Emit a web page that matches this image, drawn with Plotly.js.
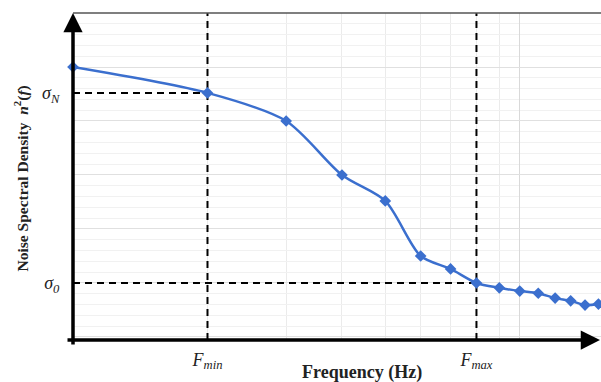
<!DOCTYPE html>
<html>
<head>
<meta charset="utf-8">
<script src="https://cdn.plot.ly/plotly-3.0.1.min.js"></script>
<style>html,body{margin:0;padding:0;background:#fff;}#chart{width:601px;height:382px;}</style>
</head>
<body>
<div id="chart"></div>
<script>
// Data (frequency index on log axis, noise spectral density in arbitrary units)
const freq = [1, 2, 3, 4, 5, 6, 7, 8, 9, 10, 11, 12, 13, 14, 15];
const density = [5.0, 4.52, 4.0, 3.0, 2.52, 1.5, 1.26, 1.0, 0.91, 0.85, 0.81, 0.72, 0.67, 0.59, 0.61];
const Fmin = 2;
const Fmax = 8;
const sigmaN = density[freq.indexOf(Fmin)];
const sigma0 = density[freq.indexOf(Fmax)];
const yTickVals = [sigmaN, sigma0];
const yTickText = ['<i>σ<sub>N</sub></i>', '<i>σ<sub>0</sub></i>'];
const xTickVals = [Fmin, Fmax];
const xTickText = ['<i>F<sub>min</sub></i>', '<i>F<sub>max</sub></i>'];
const xGridMinor = [2, 3, 4, 5, 6, 7, 8, 9];
const xGridMajor = [10];

const yRange = [-0.056, 6.0];
const xRange = [0, Math.log10(15.2)];
const serif = '"Liberation Serif", "DejaVu Serif", serif';

const dashStyle = {color: '#000', width: 2, dash: '7px,5px'};
const traces = [
  // guide lines on the grid axes (drawn below)
  {x: [Fmin, Fmin], y: yRange, xaxis: 'x', yaxis: 'y', mode: 'lines', line: dashStyle, hoverinfo: 'skip', showlegend: false},
  {x: [Fmax, Fmax], y: yRange, xaxis: 'x', yaxis: 'y', mode: 'lines', line: dashStyle, hoverinfo: 'skip', showlegend: false},
  {x: [freq[0], Fmin], y: [sigmaN, sigmaN], xaxis: 'x', yaxis: 'y', mode: 'lines', line: dashStyle, hoverinfo: 'skip', showlegend: false},
  {x: [freq[0], Fmax], y: [sigma0, sigma0], xaxis: 'x', yaxis: 'y', mode: 'lines', line: dashStyle, hoverinfo: 'skip', showlegend: false},
  // data series on the labelled axes (drawn on top)
  {x: freq, y: density, xaxis: 'x2', yaxis: 'y2', mode: 'lines+markers', cliponaxis: false, showlegend: false,
   line: {color: '#3b6fce', width: 2.5, shape: 'spline', smoothing: 0.8},
   marker: {symbol: 'diamond', size: 9, color: '#3b6fce'}}
];

const layout = {
  width: 601, height: 382,
  margin: {l: 73, r: 0, t: 13, b: 42},
  paper_bgcolor: '#fff', plot_bgcolor: '#fff',
  showlegend: false,
  xaxis: {
    type: 'log', range: xRange, tickvals: xGridMajor, showticklabels: false, ticks: '',
    showgrid: true, gridcolor: '#d9d9d9', gridwidth: 1, zeroline: false, showline: false,
    minor: {tickvals: xGridMinor, showgrid: true, gridcolor: '#ebebeb', gridwidth: 1, ticks: ''}
  },
  xaxis2: {
    type: 'log', range: xRange, overlaying: 'x', anchor: 'y2', side: 'bottom',
    tickvals: xTickVals, ticktext: xTickText, showgrid: false, zeroline: false, showline: false,
    ticks: 'outside', ticklen: 3, tickcolor: 'rgba(0,0,0,0)',
    tickfont: {family: serif, size: 18, color: '#222'}
  },
  yaxis: {
    range: yRange, dtick: 1, tick0: 0, showticklabels: false, ticks: '',
    showgrid: true, gridcolor: '#e0e0e0', gridwidth: 1, zeroline: false, showline: false,
    minor: {dtick: 0.2, tick0: 0, showgrid: true, gridcolor: '#f1f1f1', gridwidth: 1, ticks: ''}
  },
  yaxis2: {
    range: yRange, overlaying: 'y', anchor: 'x2', side: 'left',
    tickvals: yTickVals, ticktext: yTickText, showgrid: false, zeroline: false, showline: false,
    ticks: 'outside', ticklen: 9, tickcolor: 'rgba(0,0,0,0)',
    tickfont: {family: serif, size: 18, color: '#222'}
  },
  shapes: [
    {type: 'line', xref: 'paper', yref: 'paper', x0: 0, x1: 1, y0: 1, y1: 1,
     line: {color: '#555', width: 1.5}}
  ],
  annotations: [
    {xref: 'paper', yref: 'paper', x: 0, y: 1, ax: 0, ay: 333, axref: 'pixel', ayref: 'pixel',
     text: '', showarrow: true, arrowhead: 2, arrowsize: 1.1, arrowwidth: 3.5, arrowcolor: '#000', standoff: 0},
    {xref: 'paper', yref: 'paper', x: 1, y: 0, ax: -535, ay: 0, axref: 'pixel', ayref: 'pixel',
     text: '', showarrow: true, arrowhead: 2, arrowsize: 1.1, arrowwidth: 3.5, arrowcolor: '#000', standoff: 0},
    {xref: 'paper', yref: 'paper', x: 0.5, y: 0, xanchor: 'center', yanchor: 'middle', yshift: -32, xshift: 25, showarrow: false,
     text: '<b>Frequency (Hz)</b>', font: {family: serif, size: 18, color: '#222'}},
    {xref: 'paper', yref: 'paper', x: 0, y: 0.5, xanchor: 'center', yanchor: 'middle', xshift: -51, yshift: -2, textangle: -90, showarrow: false,
     text: '<b>Noise Spectral Density  <i>n</i><sup>2</sup>(<i>f</i>)</b>', font: {family: serif, size: 15.5, color: '#222'}}
  ]
};

Plotly.newPlot('chart', traces, layout, {staticPlot: true, displayModeBar: false});
</script>
</body>
</html>
